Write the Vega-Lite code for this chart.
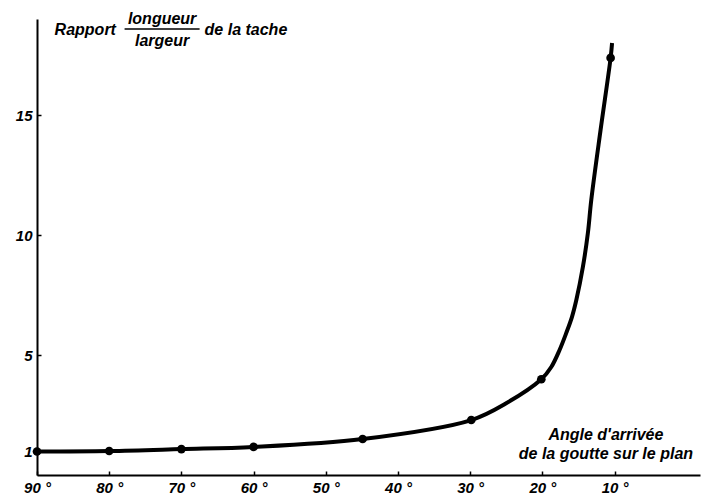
{
  "$schema": "https://vega.github.io/schema/vega-lite/v6.json",
  "autosize": "none",
  "width": 663,
  "height": 456,
  "padding": {"left": 37, "top": 19, "right": 4, "bottom": 23},
  "background": "white",
  "config": {
    "view": {"stroke": null},
    "font": "Liberation Sans",
    "axis": {"grid": false, "domainColor": "black", "domainWidth": 2, "tickColor": "black", "tickWidth": 1.5,
      "labelFont": "Liberation Sans", "labelFontStyle": "italic", "labelFontWeight": "bold", "labelFontSize": 15, "labelColor": "black", "title": null}
  },
  "datasets": {
    "markers": [
      {"angle": 90, "ratio": 0.98},
      {"angle": 80, "ratio": 1.0},
      {"angle": 70, "ratio": 1.08},
      {"angle": 60, "ratio": 1.17},
      {"angle": 44.9, "ratio": 1.5},
      {"angle": 29.85, "ratio": 2.29},
      {"angle": 20.15, "ratio": 3.99},
      {"angle": 10.55, "ratio": 17.38}
    ],
    "curve": [
      {"angle": 90, "ratio": 0.98},
      {"angle": 80, "ratio": 1.0},
      {"angle": 70, "ratio": 1.08},
      {"angle": 60, "ratio": 1.17},
      {"angle": 44.9, "ratio": 1.5},
      {"angle": 29.85, "ratio": 2.29},
      {"angle": 24.96, "ratio": 3.0},
      {"angle": 20.15, "ratio": 3.99},
      {"angle": 18.77, "ratio": 4.5},
      {"angle": 17.62, "ratio": 5.21},
      {"angle": 16.69, "ratio": 5.92},
      {"angle": 15.91, "ratio": 6.58},
      {"angle": 15.3, "ratio": 7.29},
      {"angle": 14.39, "ratio": 8.67},
      {"angle": 13.7, "ratio": 10.08},
      {"angle": 13.23, "ratio": 11.46},
      {"angle": 11.94, "ratio": 14.38},
      {"angle": 10.55, "ratio": 17.38},
      {"angle": 10.35, "ratio": 18.0}
    ]
  },
  "encoding": {
    "x": {"type": "quantitative", "scale": {"domain": [90, -1.83], "nice": false, "zero": false},
      "axis": {"values": [90, 80, 70, 60, 50, 40, 30, 20, 10], "tickSize": -4, "labelPadding": 9, "labelExpr": "datum.value + ' °'", "labelFlush": false}},
    "y": {"type": "quantitative", "scale": {"domain": [0, 19], "nice": false, "zero": true},
      "axis": {"values": [1, 5, 10, 15], "tickSize": -4, "labelPadding": 9}}
  },
  "layer": [
    {
      "data": {"name": "curve"},
      "mark": {"type": "line", "interpolate": "catmull-rom", "color": "black", "strokeWidth": 4, "clip": false},
      "encoding": {"x": {"field": "angle"}, "y": {"field": "ratio"}, "order": {"field": "angle", "sort": "descending"}}
    },
    {
      "data": {"name": "markers"},
      "mark": {"type": "point", "filled": true, "color": "black", "size": 75, "opacity": 1, "clip": false},
      "encoding": {"x": {"field": "angle"}, "y": {"field": "ratio"}}
    },
    {
      "data": {"values": [{}]},
      "mark": {"type": "text", "text": "Rapport", "align": "left", "baseline": "middle", "fontSize": 16, "fontStyle": "italic", "fontWeight": "bold", "font": "Liberation Sans"},
      "encoding": {"x": {"datum": 87.56}, "y": {"datum": 18.54}}
    },
    {
      "data": {"values": [{}]},
      "mark": {"type": "text", "text": "longueur", "align": "center", "baseline": "middle", "fontSize": 16, "fontStyle": "italic", "fontWeight": "bold", "font": "Liberation Sans"},
      "encoding": {"x": {"datum": 72.67}, "y": {"datum": 19.0}}
    },
    {
      "data": {"values": [{}]},
      "mark": {"type": "text", "text": "largeur", "align": "center", "baseline": "middle", "fontSize": 16, "fontStyle": "italic", "fontWeight": "bold", "font": "Liberation Sans"},
      "encoding": {"x": {"datum": 72.67}, "y": {"datum": 18.1}}
    },
    {
      "data": {"values": [{}]},
      "mark": {"type": "rule", "color": "black", "strokeWidth": 1.5},
      "encoding": {"x": {"datum": 77.87}, "x2": {"datum": 67.48}, "y": {"datum": 18.58}}
    },
    {
      "data": {"values": [{}]},
      "mark": {"type": "text", "text": "de la tache", "align": "left", "baseline": "middle", "fontSize": 16, "fontStyle": "italic", "fontWeight": "bold", "font": "Liberation Sans"},
      "encoding": {"x": {"datum": 66.79}, "y": {"datum": 18.54}}
    },
    {
      "data": {"values": [{}]},
      "mark": {"type": "text", "text": ["Angle d'arrivée", "de la goutte sur le plan"], "align": "center", "baseline": "middle", "lineHeight": 19, "fontSize": 16, "fontStyle": "italic", "fontWeight": "bold", "font": "Liberation Sans"},
      "encoding": {"x": {"datum": 11.2}, "y": {"datum": 1.67}}
    }
  ]
}
